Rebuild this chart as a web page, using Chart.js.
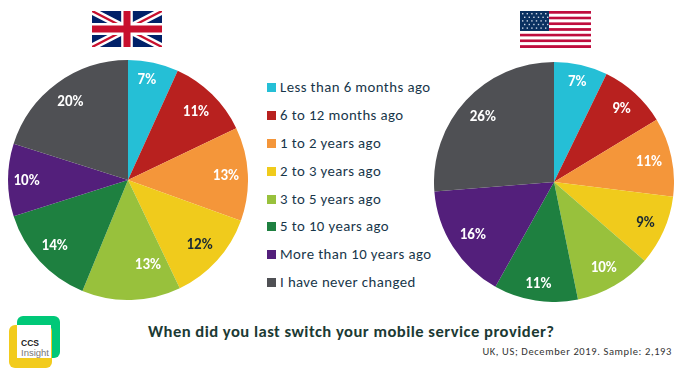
<!DOCTYPE html>
<html><head><meta charset="utf-8">
<script src="https://cdn.jsdelivr.net/npm/chart.js@4"></script>
<style>
html,body{margin:0;padding:0;background:#fff;width:680px;height:374px;overflow:hidden}
body{position:relative;font-family:Carlito,Lato,"Open Sans",sans-serif}
canvas{position:absolute}
#legend{position:absolute;left:267px;top:74px;margin:0;padding:0;list-style:none}
#legend li{position:absolute;left:0;white-space:nowrap;font-size:14.8px;line-height:20px;color:#17364a;letter-spacing:.42px}
#legend i{position:absolute;left:0;top:5px;width:9px;height:9px}
#legend span{position:absolute;left:13px;top:-1px}
#title{position:absolute;left:148px;top:321px;font-size:16.6px;font-weight:700;color:#1c3a34;white-space:nowrap;letter-spacing:.47px;line-height:20px}
#note{position:absolute;right:8px;top:345px;font-size:10.5px;color:#333;white-space:nowrap;letter-spacing:.62px;line-height:14px}
svg{position:absolute}
</style></head><body>
<svg style="left:92px;top:11px" width="70" height="36" viewBox="0 0 60 30" preserveAspectRatio="none">
<rect width="60" height="30" fill="#012169"/>
<path d="M0,0L60,30M60,0L0,30" stroke="#fff" stroke-width="6"/>
<path d="M0,0L60,30M60,0L0,30" stroke="#c8102e" stroke-width="2"/>
<path d="M30,0V30M0,15H60" stroke="#fff" stroke-width="10"/>
<path d="M30,0V30M0,15H60" stroke="#c8102e" stroke-width="6"/>
</svg>
<svg id="us" style="left:520px;top:11px" width="71" height="37" viewBox="0 0 71 37"></svg>
<canvas id="uk" width="240" height="240" style="left:8px;top:60px;width:240px;height:240px"></canvas>
<canvas id="usa" width="240" height="240" style="left:434px;top:62px;width:240px;height:240px"></canvas>
<ul id="legend"></ul>
<svg style="left:6px;top:316px" width="56" height="54" viewBox="0 0 56 54">
<rect x="11" y="0" width="43" height="42" rx="6" fill="#00c878"/>
<rect x="3" y="9" width="43" height="43" rx="6" fill="#f2cb1d"/>
<rect x="11" y="9" width="34" height="33" fill="#fff"/>
<text x="15" y="30" font-family="Liberation Sans" font-size="8.5" font-weight="700" fill="#222">CCS</text>
<text x="15" y="39.5" font-family="Liberation Sans" font-size="9.5" fill="#777">Insight</text>
</svg>
<div id="title">When did you last switch your mobile service provider?</div>
<div id="note">UK, US; December 2019. Sample: 2,193</div>
<script>
const categories=["Less than 6 months ago","6 to 12 months ago","1 to 2 years ago","2 to 3 years ago","3 to 5 years ago","5 to 10 years ago","More than 10 years ago","I have never changed"];
const ukValues=[6.8,11.1,12.6,12.4,13.3,13.9,9.8,20.1];
const usValues=[7.2,9.1,10.6,9.4,10.4,11.3,15.6,26.2];
const colors=["#25bfd6","#b8211f","#f4963a","#f0cb1c","#98c13c","#1e8040","#531f7b","#4f5054"];
const legendCentres=[87.5,115.5,143.5,171,199,226.5,254.5,282];

const stage=document.getElementById('us');
let s='';
const NS=13;
for(let i=0;i<NS;i++){const h=37/NS;s+=`<rect x="0" y="${i*h}" width="71" height="${h}" fill="${i%2?'#fff':'#bf0d3e'}"/>`;}
s+='<rect width="29" height="20" fill="#0a3161"/>';
for(let r=0;r<5;r++)for(let c=0;c<6;c++)s+=`<rect x="${2+c*4.6+(r%2?2:0)}" y="${2+r*3.6}" width="1.4" height="1.4" fill="#cfd8e6"/>`;
stage.innerHTML=s;

const lg=document.getElementById('legend');
categories.forEach((c,i)=>{const li=document.createElement('li');
 li.style.top=(legendCentres[i]-74-9.5)+'px';
 li.innerHTML=`<i style="background:${colors[i]}"></i><span>${c}</span>`;lg.appendChild(li);});

const insideEnd={id:'insideEnd',afterDatasetsDraw(ch,args,opts){
 const {ctx}=ch,meta=ch.getDatasetMeta(0),vals=ch.data.datasets[0].data,nudge=opts.nudge||{};
 ctx.save();ctx.font='700 15px Carlito,Lato,"Open Sans",sans-serif';ctx.textAlign='center';ctx.textBaseline='middle';
 meta.data.forEach((a,i)=>{
  const p=a.getProps(['x','y','startAngle','endAngle','outerRadius'],true);
  const m=(p.startAngle+p.endAngle)/2,ux=Math.cos(m),uy=Math.sin(m);
  const txt=Math.round(vals[i])+'%',hw=ctx.measureText(txt).width/2+3,hh=9;
  let d=p.outerRadius;
  for(;d>0;d-=.5){const cx=d*ux,cy=d*uy;
   if(Math.hypot(Math.abs(cx)+hw,Math.abs(cy)+hh)<=p.outerRadius-5)break;}
  const n=nudge[i]||[0,0];
  ctx.fillStyle=(i===3)?'#1b2a33':'#fff';
  ctx.fillText(txt,p.x+d*ux+n[0],p.y+d*uy+1+n[1]);
 });ctx.restore();}};
function pie(id,data,nudge){return new Chart(document.getElementById(id),{type:'pie',
 data:{labels:categories,datasets:[{data,backgroundColor:colors,borderWidth:0}]},
 options:{responsive:false,animation:false,layout:{padding:0},plugins:{legend:{display:false},tooltip:{enabled:false},insideEnd:{nudge}}},
 plugins:[insideEnd]});}
pie('uk',ukValues,{0:[-3,0],4:[17,-20],5:[-2,0],6:[-3,0]});pie('usa',usValues,{});
</script>
</body></html>
